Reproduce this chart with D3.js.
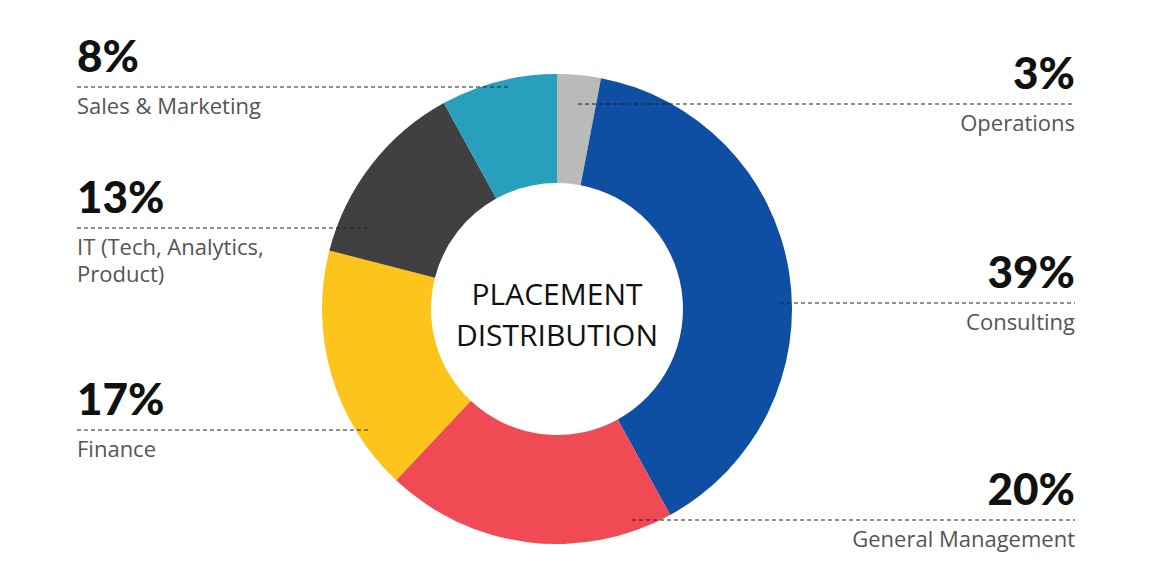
<!DOCTYPE html><html><head><meta charset="utf-8">
<script src="https://cdn.jsdelivr.net/npm/d3@7"></script>
<style>body{margin:0;background:#fff}</style></head><body>
<svg id="c" width="1156" height="565"></svg>
<script>
const categories=["Operations","Consulting","General Management","Finance","IT (Tech, Analytics, Product)","Sales & Marketing"];
const values=[3,39,20,17,13,8];
const colors=["#b8bbb7","#0f4fa3","#f04a55","#fdc41b","#404042","#279fbd"];
const labelLines=[["Operations"],["Consulting"],["General Management"],["Finance"],["IT (Tech, Analytics,","Product)"],["Sales & Marketing"]];
// label layout: side, line y, line x range
const layout=[
 {side:"r",y:104,x0:578},{side:"r",y:303,x0:780},{side:"r",y:520,x0:632},
 {side:"l",y:430,x1:370},{side:"l",y:228,x1:370},{side:"l",y:87,x1:510}];
const svg=d3.select("#c");
const cx=557,cy=309;
const pie=d3.pie().sort(null).value(d=>d)(values);
const arc=d3.arc().innerRadius(126).outerRadius(235);
const g=svg.append("g").attr("transform",`translate(${cx},${cy})`);
g.selectAll("path").data(pie).join("path").attr("d",arc).attr("fill",(d,i)=>colors[i]);
g.append("text").attr("text-anchor","middle").attr("y",-4).attr("font-family","Open Sans").attr("font-size",30).attr("fill","#111").text("PLACEMENT");
g.append("text").attr("text-anchor","middle").attr("y",37).attr("font-family","Open Sans").attr("font-size",30).attr("fill","#111").text("DISTRIBUTION");
layout.forEach((L,i)=>{
 const r=L.side==="r";
 const xa=r?1075:77;
 svg.append("line").attr("x1",r?L.x0:77).attr("x2",r?1075:L.x1).attr("y1",L.y).attr("y2",L.y)
  .attr("stroke","#222").attr("stroke-width",1).attr("stroke-dasharray","4,3");
 svg.append("text").attr("x",xa).attr("y",L.y-15).attr("text-anchor",r?"end":"start")
  .attr("font-family","Lato").attr("font-weight",900).attr("font-size",44).attr("fill","#111").text(values[i]+"%");
 labelLines[i].forEach((t,j)=>svg.append("text").attr("x",xa).attr("y",L.y+27+j*27).attr("text-anchor",r?"end":"start")
  .attr("font-family","Open Sans").attr("font-size",22).attr("fill","#555").text(t));
});
</script></body></html>
